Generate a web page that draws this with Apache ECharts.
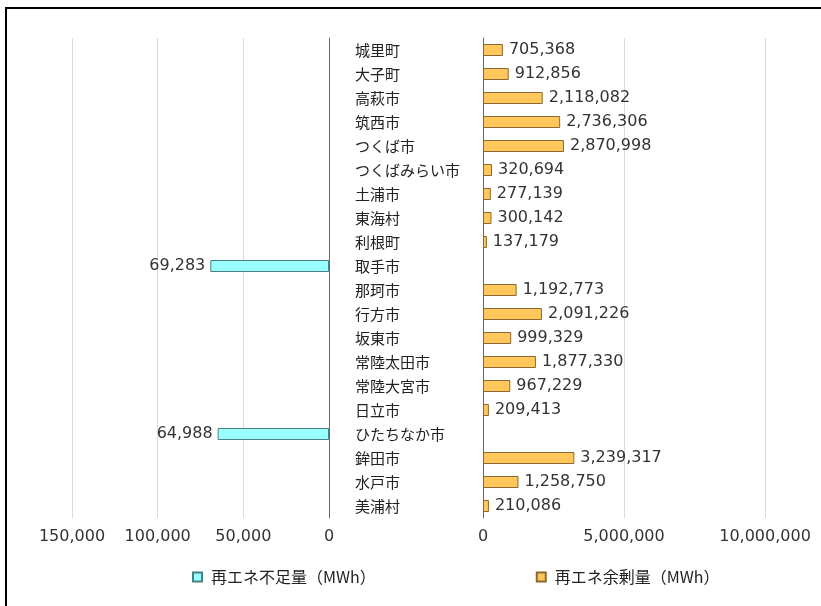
<!DOCTYPE html>
<html>
<head>
<meta charset="utf-8">
<script src="https://cdn.jsdelivr.net/npm/echarts@6/dist/echarts.min.js"></script>
<style>
  html, body { margin: 0; padding: 0; background: #fff; }
  #main { width: 821px; height: 606px; }
</style>
</head>
<body>
<div id="main"></div>
<script>
  var cities = ['城里町', '大子町', '高萩市', '筑西市', 'つくば市', 'つくばみらい市', '土浦市', '東海村', '利根町', '取手市',
                '那珂市', '行方市', '坂東市', '常陸太田市', '常陸大宮市', '日立市', 'ひたちなか市', '鉾田市', '水戸市', '美浦村'];
  var surplus = [705368, 912856, 2118082, 2736306, 2870998, 320694, 277139, 300142, 137179, null,
                 1192773, 2091226, 999329, 1877330, 967229, 209413, null, 3239317, 1258750, 210086];
  var shortage = [null, null, null, null, null, null, null, null, null, 69283,
                  null, null, null, null, null, null, 64988, null, null, null];
  var shortageName = '再エネ不足量（MWh）';
  var surplusName = '再エネ余剰量（MWh）';

  var numFont = '"DejaVu Sans", "Noto Sans CJK JP", sans-serif';
  var jpFont = '"Noto Sans CJK JP", sans-serif';
  function fmt(v) { return v.toLocaleString('en-US'); }

  var chart = echarts.init(document.getElementById('main'));
  chart.setOption({
    animation: false,
    backgroundColor: '#fff',
    graphic: [{
      type: 'rect',
      shape: { x: 6, y: 8, width: 840, height: 640 },
      style: { fill: 'none', stroke: '#000', lineWidth: 2 },
      silent: true
    }],
    legend: {
      left: 187,
      top: 564,
      itemGap: 160,
      itemWidth: 9,
      itemHeight: 9,
      icon: 'rect',
      textStyle: { fontSize: 16, color: '#222', fontFamily: jpFont, padding: [0, 0, 0, 4] },
      data: [shortageName, surplusName]
    },
    grid: [
      { left: 72, right: 821 - 329, top: 38, height: 480 },
      { left: 483, right: 821 - 765, top: 38, height: 480 }
    ],
    xAxis: [{
      gridIndex: 0,
      type: 'value',
      inverse: true,
      min: 0,
      max: 150000,
      interval: 50000,
      axisLine: { show: false },
      axisTick: { show: false },
      splitLine: { lineStyle: { color: '#dcdcdc' } },
      axisLabel: { margin: 11, fontSize: 16, color: '#333', fontFamily: numFont, formatter: fmt }
    }, {
      gridIndex: 1,
      type: 'value',
      min: 0,
      max: 10000000,
      interval: 5000000,
      axisLine: { show: false },
      axisTick: { show: false },
      splitLine: { lineStyle: { color: '#dcdcdc' } },
      axisLabel: { margin: 11, fontSize: 16, color: '#333', fontFamily: numFont, formatter: fmt }
    }],
    yAxis: [{
      gridIndex: 0,
      type: 'category',
      inverse: true,
      position: 'right',
      data: cities,
      axisLine: { lineStyle: { color: '#666' } },
      axisTick: { show: false },
      axisLabel: { show: false }
    }, {
      gridIndex: 1,
      type: 'category',
      inverse: true,
      position: 'left',
      data: cities,
      axisLine: { lineStyle: { color: '#666' } },
      axisTick: { show: false },
      axisLabel: {
        align: 'left',
        margin: 128,
        fontSize: 15,
        color: '#222',
        fontFamily: jpFont,
        padding: [0, 0, 3, 0]
      }
    }],
    series: [{
      name: shortageName,
      type: 'bar',
      xAxisIndex: 0,
      yAxisIndex: 0,
      barWidth: 12,
      data: shortage,
      itemStyle: { color: '#99FFFF', borderColor: '#4a7f80', borderWidth: 1 },
      label: {
        show: true,
        position: 'left',
        distance: 5,
        fontSize: 16,
        color: '#333',
        fontFamily: numFont,
        formatter: function (p) { return fmt(p.value); }
      }
    }, {
      name: surplusName,
      type: 'bar',
      xAxisIndex: 1,
      yAxisIndex: 1,
      barWidth: 12,
      data: surplus,
      itemStyle: { color: '#FFC65C', borderColor: '#8a6a30', borderWidth: 1 },
      label: {
        show: true,
        position: 'right',
        distance: 6,
        fontSize: 16,
        color: '#333',
        fontFamily: numFont,
        formatter: function (p) { return fmt(p.value); }
      }
    }]
  });
</script>
</body>
</html>
